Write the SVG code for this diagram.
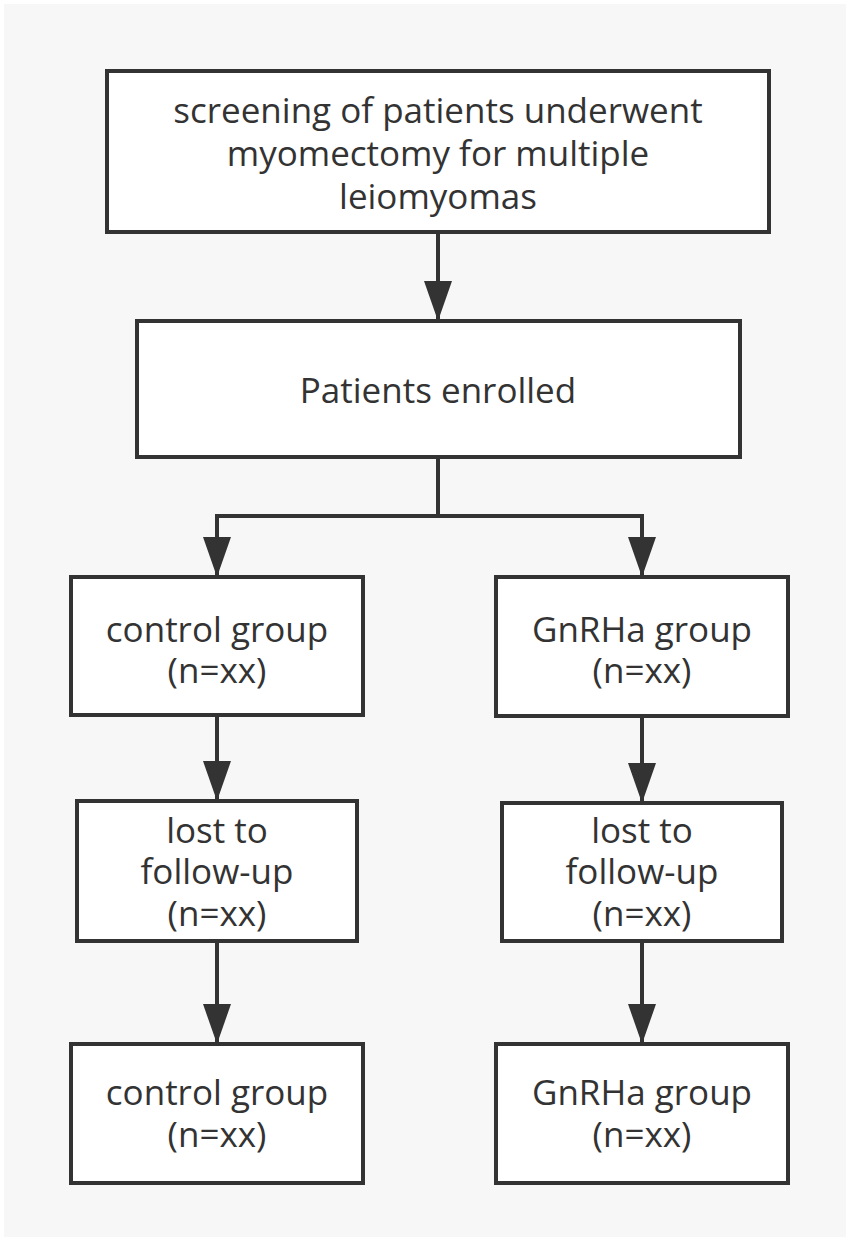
<svg xmlns="http://www.w3.org/2000/svg" width="850" height="1241" viewBox="0 0 850 1241">
<style>
.box{fill:#ffffff;stroke:#333333;stroke-width:4}
.t{font-family:"Open Sans","Noto Sans",sans-serif;font-size:35px;fill:#333333;text-anchor:middle}
.c{fill:none;stroke:#333333;stroke-width:4}
</style>
<defs>
<marker id="arr" viewBox="0 0 40 28" refX="40" refY="14" markerWidth="40" markerHeight="28" markerUnits="userSpaceOnUse" orient="auto">
<path d="M0,0 L40,14 L0,28 z" fill="#333333"/>
</marker>
</defs>
<rect x="0" y="0" width="850" height="1241" fill="#ffffff"/>
<rect x="4" y="4" width="842" height="1233" fill="#f7f7f7"/>
<g id="connectors">
<line class="c" x1="438" y1="232" x2="438" y2="321" marker-end="url(#arr)"/>
<polyline class="c" points="438,457 438,516 217,516 217,577" marker-end="url(#arr)"/>
<polyline class="c" points="438,516 642,516 642,577" marker-end="url(#arr)"/>
<line class="c" x1="217" y1="715" x2="217" y2="801" marker-end="url(#arr)"/>
<line class="c" x1="642" y1="716" x2="642" y2="803" marker-end="url(#arr)"/>
<line class="c" x1="217" y1="941" x2="217" y2="1044" marker-end="url(#arr)"/>
<line class="c" x1="642" y1="941" x2="642" y2="1044" marker-end="url(#arr)"/>
</g>
<g id="screening">
<rect class="box" x="107" y="71" width="662" height="161"/>
<text class="t" x="438" y="123">screening of patients underwent</text>
<text class="t" x="438" y="166">myomectomy for multiple</text>
<text class="t" x="438" y="209">leiomyomas</text>
</g>
<g id="enrolled">
<rect class="box" x="137" y="321" width="603" height="136"/>
<text class="t" x="438" y="403">Patients enrolled</text>
</g>
<g id="control1">
<rect class="box" x="71" y="577" width="292" height="138"/>
<text class="t" x="217" y="642">control group</text>
<text class="t" x="217" y="683">(n=xx)</text>
</g>
<g id="gnrha1">
<rect class="box" x="496" y="577" width="292" height="139"/>
<text class="t" x="642" y="642">GnRHa group</text>
<text class="t" x="642" y="683">(n=xx)</text>
</g>
<g id="lost1">
<rect class="box" x="77" y="801" width="280" height="140"/>
<text class="t" x="217" y="843">lost to</text>
<text class="t" x="217" y="884">follow-up</text>
<text class="t" x="217" y="926">(n=xx)</text>
</g>
<g id="lost2">
<rect class="box" x="502" y="803" width="280" height="138"/>
<text class="t" x="642" y="843">lost to</text>
<text class="t" x="642" y="884">follow-up</text>
<text class="t" x="642" y="926">(n=xx)</text>
</g>
<g id="control2">
<rect class="box" x="71" y="1044" width="292" height="139"/>
<text class="t" x="217" y="1105">control group</text>
<text class="t" x="217" y="1147">(n=xx)</text>
</g>
<g id="gnrha2">
<rect class="box" x="496" y="1044" width="292" height="139"/>
<text class="t" x="642" y="1105">GnRHa group</text>
<text class="t" x="642" y="1147">(n=xx)</text>
</g>
</svg>
